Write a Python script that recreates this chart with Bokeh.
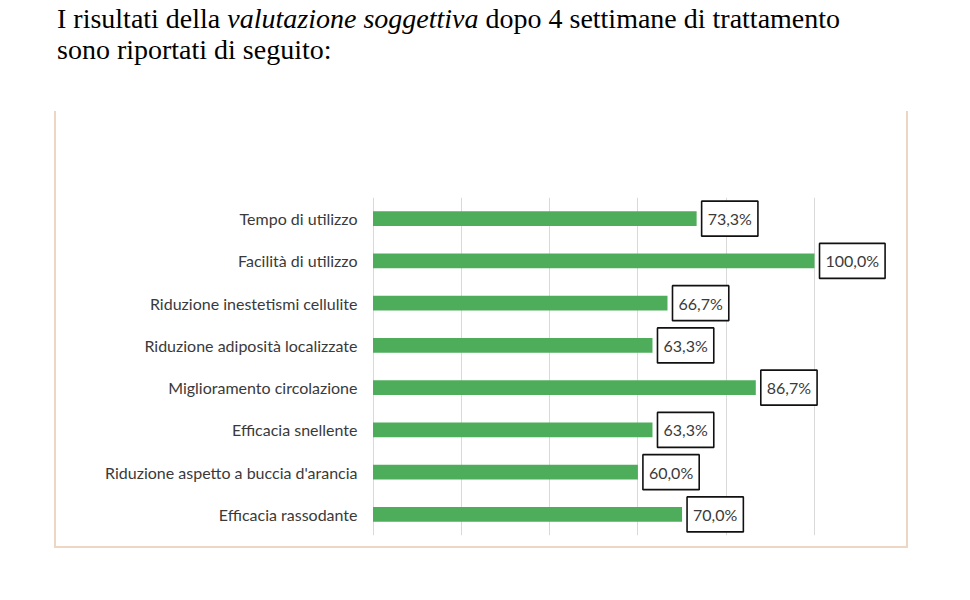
from bokeh.plotting import figure
from bokeh.models import Div, FixedTicker, Range1d, FactorRange, ColumnDataSource
from bokeh.layouts import column
from bokeh.core.properties import value
from bokeh.embed import file_html
from bokeh.resources import INLINE

# ---- data ----
categories = [
    "Tempo di utilizzo",
    "Facilità di utilizzo",
    "Riduzione inestetismi cellulite",
    "Riduzione adiposità localizzate",
    "Miglioramento circolazione",
    "Efficacia snellente",
    "Riduzione aspetto a buccia d'arancia",
    "Efficacia rassodante",
]
values = [73.3, 100.0, 66.7, 63.3, 86.7, 63.3, 60.0, 70.0]
grid_ticks = [0, 20, 40, 60, 80, 100]

labels = [f"{v:.1f}".replace(".", ",") + "%" for v in values]

FONT = "Lato"
TEXT_GRAY = "#3A3A3A"
GREEN = "#4EAD5B"
BOX = "#EED6C4"

source = ColumnDataSource(dict(cat=categories, val=values, lab=labels))

title_html = (
    '<div style="font-family:\'Liberation Serif\',\'Times New Roman\',serif;'
    'font-size:28px;line-height:31px;color:#000;padding-top:3px;'
    'white-space:nowrap;">'
    'I risultati della <i>valutazione soggettiva</i> dopo 4 settimane di trattamento<br>'
    'sono riportati di seguito:</div>'
)
title = Div(text=title_html, width=900, height=111, margin=(0, 0, 0, 57))

p = figure(
    width=854, height=437,
    y_range=FactorRange(factors=list(reversed(categories)), range_padding=0),
    x_range=Range1d(-0.34, 121.74),
    output_backend="svg", toolbar_location=None,
    min_border_left=315, min_border_right=0, min_border_top=86, min_border_bottom=13,
    margin=(0, 0, 0, 54),
)
p.styles = {
    "border-left": f"2px solid {BOX}",
    "border-right": f"2px solid {BOX}",
    "border-bottom": f"2px solid {BOX}",
}
p.outline_line_color = None
p.background_fill_color = "white"
p.border_fill_color = "white"

p.hbar(y="cat", right="val", left=0, height=0.35, source=source,
       fill_color=GREEN, line_color=None)

p.text(x="val", y="cat", text="lab", source=source,
       x_offset=5, text_align="left", text_baseline="middle",
       text_font=value(FONT), text_font_size="16px", text_color=TEXT_GRAY,
       border_line_color="#111111", border_line_width=1.6,
       background_fill_color="white", padding=(6, 6, 8, 8))

p.xaxis.visible = False
p.xaxis.ticker = FixedTicker(ticks=grid_ticks)
p.xgrid.ticker = FixedTicker(ticks=grid_ticks)
p.xgrid.grid_line_color = "#D9D9D9"
p.xgrid.grid_line_width = 1
p.ygrid.grid_line_color = None

p.yaxis.axis_line_color = None
p.yaxis.major_tick_line_color = None
p.yaxis.minor_tick_line_color = None
p.yaxis.major_label_standoff = 8
p.yaxis.major_label_text_font = FONT
p.yaxis.major_label_text_font_size = "16px"
p.yaxis.major_label_text_color = TEXT_GRAY

layout = column(title, p, spacing=0)

open("out.html", "w").write(file_html(layout, INLINE))
